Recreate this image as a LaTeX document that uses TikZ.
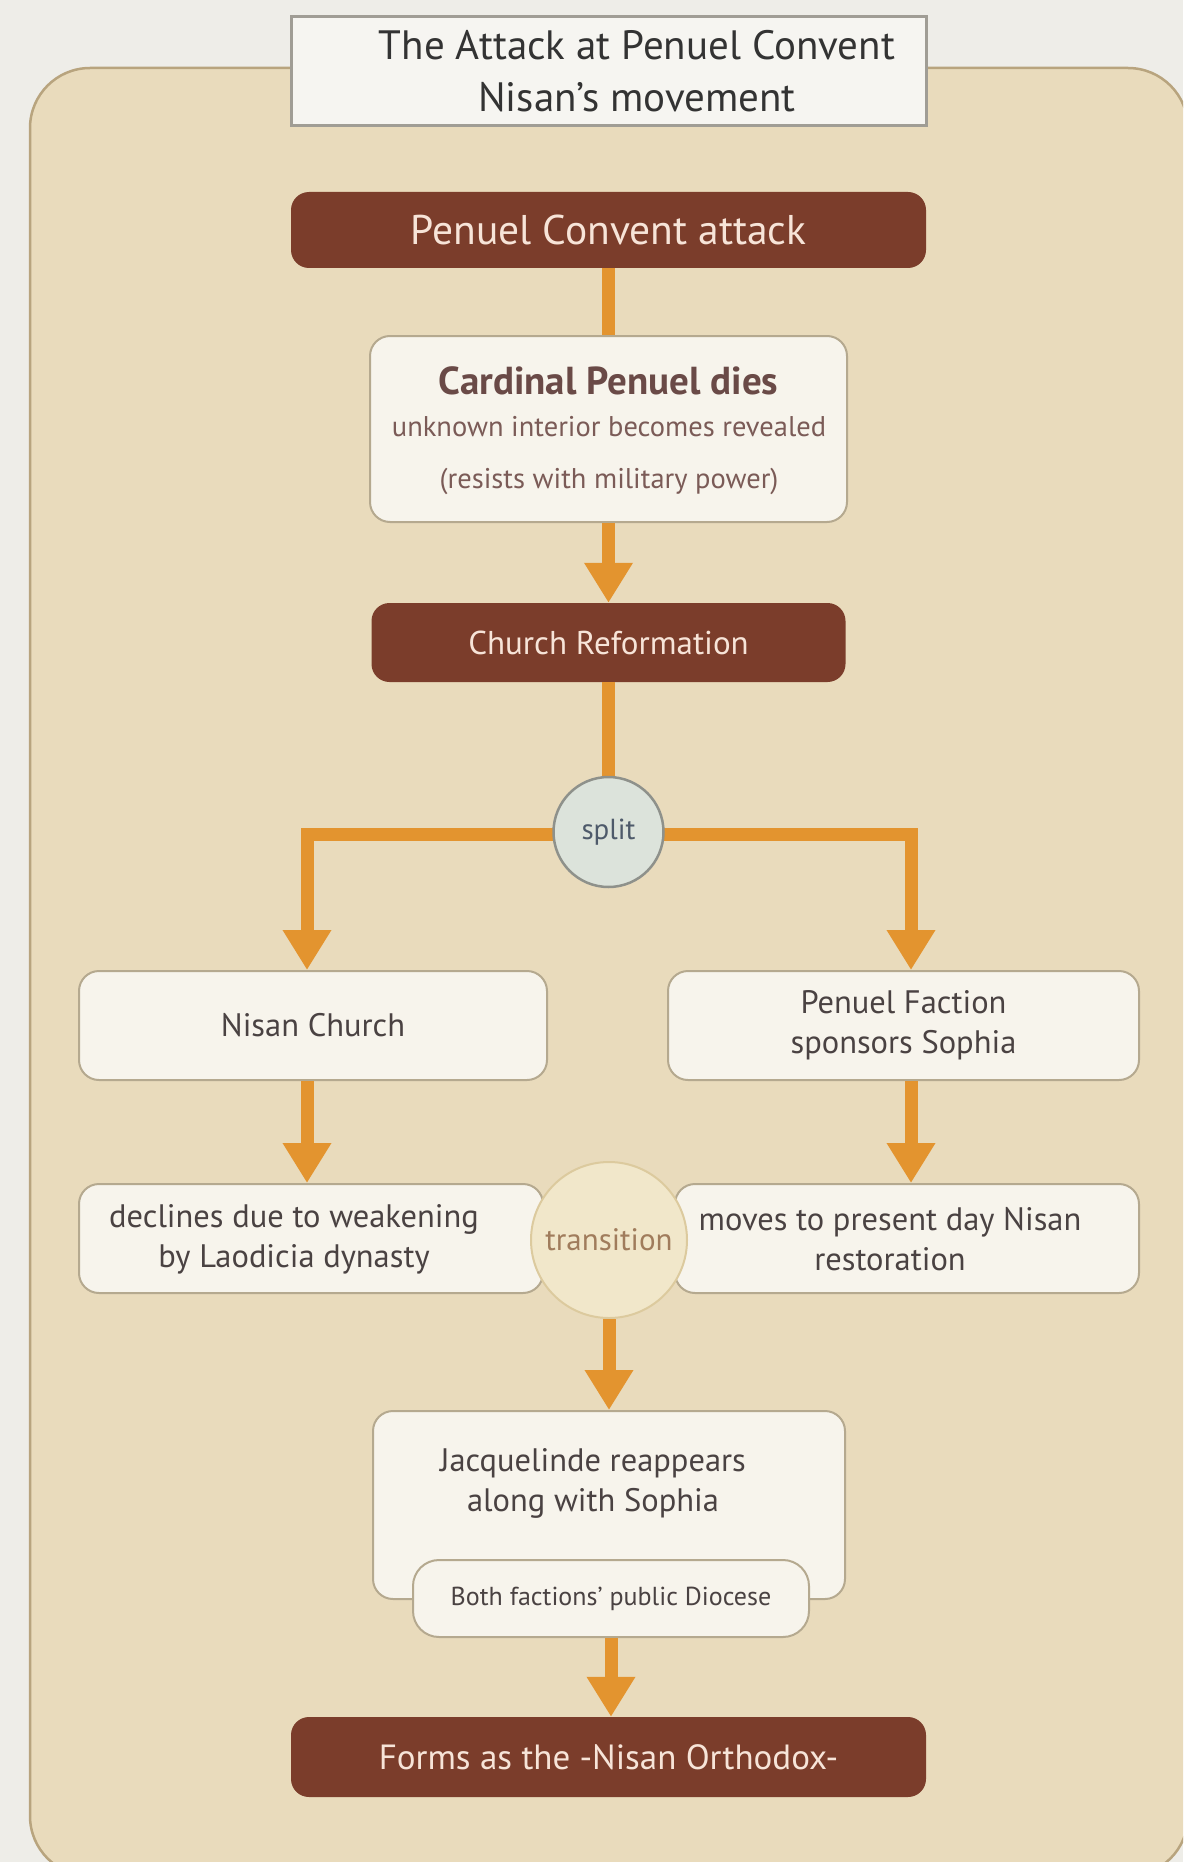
\documentclass[tikz,border=0pt]{standalone}
\usepackage{fontspec}
\setmainfont{PT Sans}
\usetikzlibrary{arrows.meta}
\definecolor{pagebg}{HTML}{EEEDE8}
\definecolor{panelbg}{HTML}{E9DBBC}
\definecolor{panelln}{HTML}{B8A47E}
\definecolor{titlebg}{HTML}{F6F5F1}
\definecolor{titleln}{HTML}{A09D95}
\definecolor{brn}{HTML}{7B3D2B}
\definecolor{brntext}{HTML}{F7E4D8}
\definecolor{boxbg}{HTML}{F7F4EC}
\definecolor{boxln}{HTML}{B5A98F}
\definecolor{orng}{HTML}{E3942F}
\definecolor{txt}{HTML}{4A4242}
\definecolor{cardtxt}{HTML}{6A4A47}
\definecolor{subtxt}{HTML}{7B5B57}
\definecolor{splitbg}{HTML}{DCE3DB}
\definecolor{splitln}{HTML}{8E918B}
\definecolor{splittxt}{HTML}{4E5A6A}
\definecolor{transbg}{HTML}{F1E7CA}
\definecolor{transln}{HTML}{DCCA9E}
\definecolor{transtxt}{HTML}{A07C5C}
\newcommand\sizetitle{\fontsize{41}{52}\selectfont}
\newcommand\sizehead{\fontsize{41.5}{48}\selectfont}
\newcommand\sizebody{\fontsize{32.5}{40}\selectfont}
\newcommand\sizesub{\fontsize{28.5}{52}\selectfont}
\newcommand\sizesmall{\fontsize{26}{30}\selectfont}
\begin{document}
\begin{tikzpicture}[x=1pt,y=-1pt,
  conn/.style={draw=orng, line width=13pt},
  arr/.style={conn, -{Triangle[width=46pt,length=40pt]}},
  darkbox/.style={rounded corners=18pt, fill=brn, text=brntext, inner sep=0pt, align=center},
  lightbox/.style={rounded corners=20pt, fill=boxbg, draw=boxln, line width=2pt, text=txt, inner sep=0pt, align=center},
  plain/.style={inner sep=0pt, align=center}]
\useasboundingbox (0,0) rectangle (1183,1862);
\begin{scope}
\clip (0,0) rectangle (1183,1862);
\fill[pagebg] (0,0) rectangle (1183,1862);
\draw[fill=panelbg, draw=panelln, line width=2.5pt, rounded corners=60pt] (30,68) rectangle (1188,1876);
\end{scope}
% title
\node[draw=titleln, fill=titlebg, line width=3pt, minimum width=635pt, minimum height=109pt, inner sep=0pt] (title) at (608.5,71.5) {};
\node[plain, text={black!80}, font=\sizetitle] (titletext) at (637,71) {The Attack at Penuel Convent\\Nisan’s movement};
% boxes
\node[darkbox, minimum width=635pt, minimum height=76pt, font=\sizehead] (top) at (608.5,230) {Penuel Convent attack};
\node[lightbox, minimum width=477pt, minimum height=186pt] (card) at (608.5,429) {};
\node[plain, text=cardtxt, font=\fontsize{39}{44}\bfseries\selectfont] (cardhead) at (608.5,381) {Cardinal Penuel dies};
\node[plain, text=subtxt, font=\sizesub] (cardsub) at (609,456) {unknown interior becomes revealed\\(resists with military power)};
\node[darkbox, minimum width=474pt, minimum height=79pt, font=\fontsize{33}{40}\selectfont] (reform) at (608.5,642.5) {Church Reformation};
\node[lightbox, minimum width=468pt, minimum height=109pt, font=\sizebody] (nisan) at (313,1025.5) {Nisan Church};
\node[lightbox, minimum width=471pt, minimum height=109pt, font=\sizebody] (faction) at (903.5,1025.5) {Penuel Faction\\sponsors Sophia};
\node[lightbox, minimum width=464pt, minimum height=109pt] (declines) at (311,1238.5) {};
\node[plain, text=txt, font=\sizebody] (declinestext) at (294,1239) {declines due to weakening\\by Laodicia dynasty};
\node[lightbox, minimum width=464pt, minimum height=109pt] (moves) at (907,1238.5) {};
\node[plain, text=txt, font=\sizebody] (movestext) at (890,1239) {moves to present day Nisan\\restoration};
\node[lightbox, minimum width=472pt, minimum height=188pt] (jacq) at (609,1505) {};
\node[plain, text=txt, font=\sizebody] (jacqtext) at (593,1483) {Jacquelinde reappears\\along with Sophia};
\node[lightbox, rounded corners=26pt, minimum width=396pt, minimum height=77pt, font=\sizesmall] (both) at (611,1598.5) {Both factions’ public Diocese};
\node[darkbox, minimum width=635pt, minimum height=80pt, font=\fontsize{35}{42}\selectfont] (forms) at (608.5,1757) {Forms as the -Nisan Orthodox-};
% connectors
\draw[conn] (top.south) -- (card.north);
\draw[arr] (card.south) -- (reform.north);
\draw[conn] (reform.south) -- (608.5,790);
\coordinate (splitc) at (608.5,834);
\coordinate (lcol) at (307,834);
\coordinate (rcol) at (911,834);
\draw[arr] (splitc) -- (lcol) -- (lcol |- nisan.north);
\draw[arr] (splitc) -- (rcol) -- (rcol |- faction.north);
\draw[arr] (lcol |- nisan.south) -- (lcol |- declines.north);
\draw[arr] (rcol |- faction.south) -- (rcol |- moves.north);
% circles
\node[circle, fill=splitbg, draw=splitln, line width=2.5pt, minimum size=110pt, inner sep=0pt, text=splittxt, font=\fontsize{29}{34}\selectfont] (split) at (608.5,832) {split};
\node[circle, fill=transbg, draw=transln, line width=2pt, minimum size=156pt, inner sep=0pt, text=transtxt, font=\fontsize{31}{36}\selectfont] (trans) at (609,1240) {transition};
\draw[arr] (trans.south) -- (trans.south |- jacq.north);
\draw[arr] (both.south) -- (both.south |- forms.north);
\end{tikzpicture}
\end{document}
